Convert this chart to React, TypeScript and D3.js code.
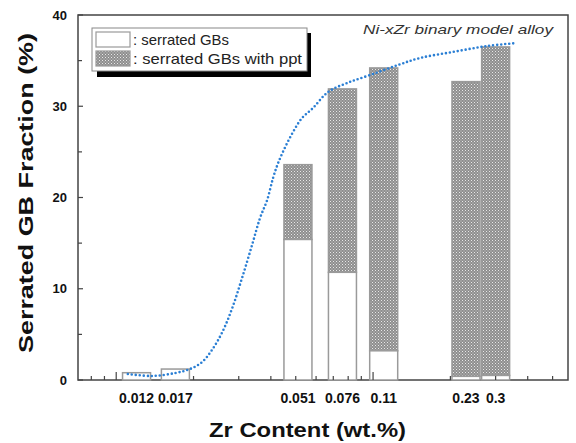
import { useEffect, useRef } from "react"
import * as d3 from "d3"

// Zr content (wt.%) of each alloy and the labels printed under the bars
const zrContent = [0.012, 0.017, 0.051, 0.076, 0.11, 0.23, 0.3]
const zrLabels = ["0.012", "0.017", "0.051", "0.076", "0.11", "0.23", "0.3"]
// fraction (%) of plain serrated GBs (white part of the bar)
const serratedGBs = [0.8, 1.2, 15.4, 11.8, 3.2, 0.4, 0.5]
// fraction (%) of serrated GBs with ppt (hatched part stacked on top)
const serratedWithPpt = [0, 0, 8.2, 20.1, 31.0, 32.3, 36.0]
// dotted trend curve drawn by hand in the original figure
const trendX = [0.0111, 0.0138, 0.017, 0.0194, 0.0216, 0.0236, 0.0259, 0.0283, 0.0309, 0.0338, 0.0363, 0.0387,
    0.0408, 0.0427, 0.0455, 0.0488, 0.0529, 0.0584, 0.0668, 0.0792, 0.0973, 0.1251, 0.1524, 0.2048, 0.2777, 0.3634]
const trendY = [0.66, 0.44, 0.77, 1.21, 1.97, 3.29, 5.26, 7.89, 11.18, 14.79, 17.75, 19.73,
    22.14, 23.78, 25.53, 27.18, 28.71, 29.81, 31.56, 32.55, 33.42, 34.52, 35.29, 35.95, 36.6, 36.93]
const yTicks = [0, 10, 20, 30, 40]
const yMinorTicks = [5, 15, 25, 35]
const xMinorTicks = [0.008, 0.009, 0.02, 0.03, 0.04, 0.05, 0.06, 0.07, 0.08, 0.09, 0.2, 0.3, 0.4, 0.5]
const xMajorTicks = [0.01, 0.1]
const legendLabels = [": serrated GBs", ": serrated GBs with ppt"]

const font = "Arial, 'Liberation Sans', sans-serif"
const axisColor = "#444"
const barStroke = "#9a9a9a"

const App = () => {
    const ref = useRef<SVGSVGElement>(null)

    useEffect(() => {
        const svg = d3.select(ref.current)
        svg.selectAll("*").remove()

        const left = 78, right = 568, top = 15, bottom = 380
        const x = d3.scaleLog().domain([0.0071, 0.574]).range([left, right])
        const y = d3.scaleLinear().domain([0, 40]).range([bottom, top])
        const barW = 28

        const defs = svg.append("defs")
        const pat = defs.append("pattern")
            .attr("id", "hatch")
            .attr("patternUnits", "userSpaceOnUse")
            .attr("width", 3).attr("height", 3)
        pat.append("rect").attr("width", 3).attr("height", 3).attr("fill", "#8e8e8e")
        pat.append("rect").attr("x", 0).attr("y", 0).attr("width", 1).attr("height", 1).attr("fill", "#e8e8e8")
        pat.append("rect").attr("x", 1.5).attr("y", 1.5).attr("width", 1).attr("height", 1).attr("fill", "#d4d4d4")

        // frame
        svg.append("rect")
            .attr("x", left).attr("y", top)
            .attr("width", right - left).attr("height", bottom - top)
            .attr("fill", "none").attr("stroke", axisColor).attr("stroke-width", 1.5)

        // bars
        const bars = svg.append("g")
        zrContent.forEach((v, i) => {
            const cx = x(v)
            const base = serratedGBs[i]
            const total = base + serratedWithPpt[i]
            if (serratedWithPpt[i] > 0) {
                bars.append("rect")
                    .attr("x", cx - barW / 2).attr("y", y(total))
                    .attr("width", barW).attr("height", y(base) - y(total))
                    .attr("fill", "url(#hatch)").attr("stroke", barStroke).attr("stroke-width", 1.5)
            }
            bars.append("rect")
                .attr("x", cx - barW / 2).attr("y", y(base))
                .attr("width", barW).attr("height", y(0) - y(base))
                .attr("fill", "white").attr("stroke", barStroke).attr("stroke-width", 1.5)
        })

        // ticks, pointing inward
        const ticks = svg.append("g").attr("stroke", axisColor).attr("stroke-width", 1.2)
        yTicks.forEach(t => ticks.append("line").attr("x1", left).attr("x2", left + 5).attr("y1", y(t)).attr("y2", y(t)))
        yMinorTicks.forEach(t => ticks.append("line").attr("x1", left).attr("x2", left + 4).attr("y1", y(t)).attr("y2", y(t)))
        xMinorTicks.forEach(t => ticks.append("line").attr("x1", x(t)).attr("x2", x(t)).attr("y1", bottom).attr("y2", bottom - 4))
        xMajorTicks.forEach(t => ticks.append("line").attr("x1", x(t)).attr("x2", x(t)).attr("y1", bottom).attr("y2", bottom - 8))

        // trend curve
        const line = d3.line<number>()
            .x((_, i) => x(trendX[i]))
            .y(d => y(d))
            .curve(d3.curveCatmullRom)
        svg.append("path")
            .attr("d", line(trendY))
            .attr("fill", "none")
            .attr("stroke", "#2b7fd4")
            .attr("stroke-width", 2.6)
            .attr("stroke-linecap", "round")
            .attr("stroke-dasharray", "0 4")

        // tick labels
        svg.append("g").selectAll("text").data(yTicks).join("text")
            .attr("x", 67).attr("y", d => y(d) + 4.5)
            .attr("text-anchor", "end")
            .attr("font-family", font).attr("font-weight", "bold").attr("font-size", 13).attr("fill", "#111")
            .text(d => d)
        svg.append("g").selectAll("text").data(zrContent).join("text")
            .attr("x", d => x(d)).attr("y", 403)
            .attr("text-anchor", "middle")
            .attr("font-family", font).attr("font-weight", "bold").attr("font-size", 14).attr("fill", "#111")
            .text((_, i) => zrLabels[i])

        // axis titles
        svg.append("text")
            .attr("x", 209).attr("y", 437)
            .attr("textLength", 197).attr("lengthAdjust", "spacingAndGlyphs")
            .attr("font-family", font).attr("font-weight", "bold").attr("font-size", 21).attr("fill", "#111")
            .text("Zr Content (wt.%)")
        svg.append("text")
            .attr("transform", "translate(33,353) rotate(-90)")
            .attr("textLength", 320).attr("lengthAdjust", "spacingAndGlyphs")
            .attr("font-family", font).attr("font-weight", "bold").attr("font-size", 21).attr("fill", "#111")
            .text("Serrated GB Fraction (%)")

        // annotation
        svg.append("text")
            .attr("x", 363).attr("y", 34)
            .attr("textLength", 190).attr("lengthAdjust", "spacingAndGlyphs")
            .attr("font-family", font).attr("font-style", "italic").attr("font-size", 13).attr("fill", "#333")
            .text("Ni-xZr binary model alloy")

        // legend with drop shadow
        const lg = svg.append("g")
        lg.append("rect").attr("x", 97).attr("y", 33).attr("width", 214).attr("height", 44).attr("fill", "#000")
        lg.append("rect").attr("x", 92).attr("y", 28).attr("width", 215).attr("height", 43)
            .attr("fill", "white").attr("stroke", "#888").attr("stroke-width", 1)
        lg.append("rect").attr("x", 96).attr("y", 32).attr("width", 34).attr("height", 15)
            .attr("fill", "white").attr("stroke", barStroke).attr("stroke-width", 1.2)
        lg.append("rect").attr("x", 96).attr("y", 51).attr("width", 34).attr("height", 15)
            .attr("fill", "url(#hatch)").attr("stroke", barStroke).attr("stroke-width", 1.2)
        const legendLen = [96, 169]
        legendLabels.forEach((t, i) => {
            lg.append("text").attr("x", 133).attr("y", 45 + i * 19)
                .attr("textLength", legendLen[i]).attr("lengthAdjust", "spacingAndGlyphs")
                .attr("font-family", font).attr("font-size", 15).attr("fill", "#222")
                .text(t)
        })
    }, [])

    return (
        <svg ref={ref} width={576} height={443}
            style={{ position: "absolute", left: 0, top: 0, background: "white" }}></svg>
    )
}

export default App
